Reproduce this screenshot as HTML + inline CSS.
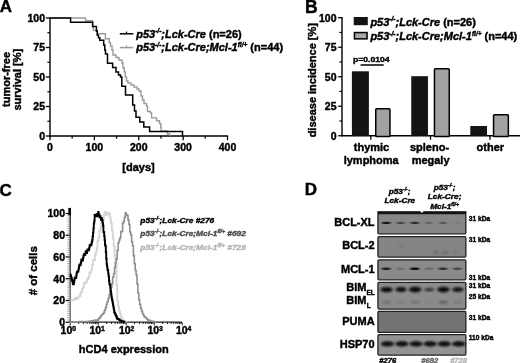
<!DOCTYPE html>
<html><head><meta charset="utf-8"><style>
html,body{margin:0;padding:0;background:#fff;}
svg{display:block;}
text{font-family:"Liberation Sans", sans-serif; stroke:currentColor; stroke-width:0.42px;}
svg{filter:blur(0.3px);}
</style></head><body>
<svg width="520" height="363" viewBox="0 0 520 363">
<rect width="520" height="363" fill="#fff"/>
<text x="-0.2" y="12.0" font-size="17" font-weight="bold" font-style="normal" text-anchor="start" fill="#000" color="#000" >A</text>
<line x1="50" y1="17.4" x2="50" y2="136.6" stroke="#000" stroke-width="1.4"/>
<line x1="45.8" y1="136.0" x2="50" y2="136.0" stroke="#000" stroke-width="1.3"/>
<text x="45" y="139.8" font-size="10.5" font-weight="bold" font-style="normal" text-anchor="end" fill="#000" color="#000" >0</text>
<line x1="45.8" y1="106.5" x2="50" y2="106.5" stroke="#000" stroke-width="1.3"/>
<text x="45" y="110.3" font-size="10.5" font-weight="bold" font-style="normal" text-anchor="end" fill="#000" color="#000" >25</text>
<line x1="45.8" y1="77.0" x2="50" y2="77.0" stroke="#000" stroke-width="1.3"/>
<text x="45" y="80.8" font-size="10.5" font-weight="bold" font-style="normal" text-anchor="end" fill="#000" color="#000" >50</text>
<line x1="45.8" y1="47.5" x2="50" y2="47.5" stroke="#000" stroke-width="1.3"/>
<text x="45" y="51.3" font-size="10.5" font-weight="bold" font-style="normal" text-anchor="end" fill="#000" color="#000" >75</text>
<line x1="45.8" y1="18.0" x2="50" y2="18.0" stroke="#000" stroke-width="1.3"/>
<text x="45" y="21.8" font-size="10.5" font-weight="bold" font-style="normal" text-anchor="end" fill="#000" color="#000" >100</text>
<line x1="47.4" y1="121.25" x2="50" y2="121.25" stroke="#000" stroke-width="1.2"/>
<line x1="47.4" y1="91.75" x2="50" y2="91.75" stroke="#000" stroke-width="1.2"/>
<line x1="47.4" y1="62.25" x2="50" y2="62.25" stroke="#000" stroke-width="1.2"/>
<line x1="47.4" y1="32.75" x2="50" y2="32.75" stroke="#000" stroke-width="1.2"/>
<line x1="49.4" y1="136.0" x2="228.1" y2="136.0" stroke="#000" stroke-width="1.4"/>
<line x1="50.0" y1="136.0" x2="50.0" y2="140.2" stroke="#000" stroke-width="1.3"/>
<line x1="72.1875" y1="136.0" x2="72.1875" y2="138.6" stroke="#000" stroke-width="1.3"/>
<line x1="94.375" y1="136.0" x2="94.375" y2="140.2" stroke="#000" stroke-width="1.3"/>
<line x1="116.5625" y1="136.0" x2="116.5625" y2="138.6" stroke="#000" stroke-width="1.3"/>
<line x1="138.75" y1="136.0" x2="138.75" y2="140.2" stroke="#000" stroke-width="1.3"/>
<line x1="160.9375" y1="136.0" x2="160.9375" y2="138.6" stroke="#000" stroke-width="1.3"/>
<line x1="183.125" y1="136.0" x2="183.125" y2="140.2" stroke="#000" stroke-width="1.3"/>
<line x1="205.3125" y1="136.0" x2="205.3125" y2="138.6" stroke="#000" stroke-width="1.3"/>
<line x1="227.5" y1="136.0" x2="227.5" y2="140.2" stroke="#000" stroke-width="1.3"/>
<text x="50.0" y="151.2" font-size="10.5" font-weight="bold" font-style="normal" text-anchor="middle" fill="#000" color="#000" >0</text>
<text x="94.375" y="151.2" font-size="10.5" font-weight="bold" font-style="normal" text-anchor="middle" fill="#000" color="#000" >100</text>
<text x="138.75" y="151.2" font-size="10.5" font-weight="bold" font-style="normal" text-anchor="middle" fill="#000" color="#000" >200</text>
<text x="183.125" y="151.2" font-size="10.5" font-weight="bold" font-style="normal" text-anchor="middle" fill="#000" color="#000" >300</text>
<text x="227.5" y="151.2" font-size="10.5" font-weight="bold" font-style="normal" text-anchor="middle" fill="#000" color="#000" >400</text>
<text x="138.5" y="170.5" font-size="11" font-weight="bold" font-style="normal" text-anchor="middle" fill="#000" color="#000" >[days]</text>
<g transform="translate(10.2,79.5) rotate(-90)">
<text x="0" y="0" font-size="11" font-weight="bold" font-style="normal" text-anchor="middle" fill="#000" color="#000" >tumor-free</text>
</g>
<g transform="translate(21.3,79.7) rotate(-90)">
<text x="0" y="0" font-size="11" font-weight="bold" font-style="normal" text-anchor="middle" fill="#000" color="#000" >survival [%]</text>
</g>
<polyline points="50.00,18.00 85.60,18.00 85.60,20.80 92.50,20.80 92.50,26.70 93.40,26.70 93.40,30.40 96.50,30.40 96.50,31.20 97.30,31.20 97.30,33.70 105.40,33.70 105.40,38.70 109.30,38.70 109.30,42.80 110.50,42.80 110.50,46.00 112.00,46.00 112.00,50.00 113.00,50.00 113.00,55.00 116.00,55.00 116.00,57.50 119.00,57.50 119.00,60.00 122.00,60.00 122.00,63.00 123.00,63.00 123.00,68.00 124.30,68.00 124.30,72.00 125.30,72.00 125.30,77.00 126.50,77.00 126.50,81.00 128.00,81.00 128.00,83.00 131.00,83.00 131.00,85.00 134.00,85.00 134.00,87.00 137.00,87.00 137.00,89.00 139.00,89.00 139.00,91.00 141.00,91.00 141.00,96.00 142.50,96.00 142.50,100.00 144.00,100.00 144.00,103.50 146.50,103.50 146.50,106.00 147.50,106.00 147.50,111.50 150.50,111.50 150.50,113.00 151.60,113.00 151.60,117.90 156.60,117.90 156.60,120.70 159.50,120.70 159.50,123.50 160.70,123.50 160.70,127.00 161.10,127.00 161.10,131.00 167.30,131.00 167.30,134.00 169.80,134.00 169.80,136.00" fill="none" stroke="#9a9a9a" stroke-width="1.4" stroke-linejoin="miter"/>
<polyline points="50.00,18.00 70.60,18.00 70.60,22.20 92.70,22.20 92.70,26.60 96.40,26.60 96.40,31.00 97.30,31.00 97.30,35.30 98.50,35.30 98.50,37.80 99.80,37.80 99.80,40.30 103.70,40.30 103.70,45.00 104.80,45.00 104.80,50.00 105.50,50.00 105.50,54.00 107.50,54.00 107.50,63.30 112.60,63.30 112.60,67.50 116.00,67.50 116.00,72.00 118.50,72.00 118.50,75.00 120.50,75.00 120.50,77.00 121.80,77.00 121.80,86.30 125.50,86.30 125.50,95.00 132.70,95.00 132.70,105.00 134.50,105.00 134.50,111.00 136.00,111.00 136.00,117.20 139.80,117.20 139.80,122.00 143.80,122.00 143.80,126.90 149.60,126.90 149.60,131.60 182.50,131.60 182.50,136.00" fill="none" stroke="#000" stroke-width="1.5" stroke-linejoin="miter"/>
<line x1="119.8" y1="33.8" x2="133.3" y2="33.8" stroke="#000" stroke-width="1.5"/>
<line x1="126.5" y1="31.6" x2="126.5" y2="33.8" stroke="#000" stroke-width="1.2"/>
<line x1="119.8" y1="47.6" x2="133.3" y2="47.6" stroke="#9a9a9a" stroke-width="1.5"/>
<line x1="126.5" y1="45.4" x2="126.5" y2="47.6" stroke="#9a9a9a" stroke-width="1.2"/>
<text x="136.2" y="37.5" font-size="11" font-weight="bold" fill="#000"><tspan font-style="italic">p53</tspan><tspan font-style="italic" font-size="6.5" dy="-4.2">-/-</tspan><tspan font-style="italic" dy="4.2">;Lck-Cre</tspan><tspan> (n=26)</tspan></text>
<text x="136.2" y="51.4" font-size="11" font-weight="bold" fill="#000"><tspan font-style="italic">p53</tspan><tspan font-style="italic" font-size="6.5" dy="-4.2">-/-</tspan><tspan font-style="italic" dy="4.2">;Lck-Cre;Mcl-1</tspan><tspan font-style="italic" font-size="6.5" dy="-4.2">fl/+</tspan><tspan dy="4.2"> (n=44)</tspan></text>
<text x="305.0" y="12.7" font-size="17.5" font-weight="bold" font-style="normal" text-anchor="start" fill="#000" color="#000" >B</text>
<line x1="342" y1="17.099999999999998" x2="342" y2="136.35" stroke="#000" stroke-width="1.4"/>
<line x1="338.2" y1="135.75" x2="342" y2="135.75" stroke="#000" stroke-width="1.3"/>
<text x="336.5" y="139.55" font-size="10.5" font-weight="bold" font-style="normal" text-anchor="end" fill="#000" color="#000" >0</text>
<line x1="338.2" y1="106.2375" x2="342" y2="106.2375" stroke="#000" stroke-width="1.3"/>
<text x="336.5" y="110.0375" font-size="10.5" font-weight="bold" font-style="normal" text-anchor="end" fill="#000" color="#000" >25</text>
<line x1="338.2" y1="76.725" x2="342" y2="76.725" stroke="#000" stroke-width="1.3"/>
<text x="336.5" y="80.52499999999999" font-size="10.5" font-weight="bold" font-style="normal" text-anchor="end" fill="#000" color="#000" >50</text>
<line x1="338.2" y1="47.212500000000006" x2="342" y2="47.212500000000006" stroke="#000" stroke-width="1.3"/>
<text x="336.5" y="51.0125" font-size="10.5" font-weight="bold" font-style="normal" text-anchor="end" fill="#000" color="#000" >75</text>
<line x1="338.2" y1="17.700000000000003" x2="342" y2="17.700000000000003" stroke="#000" stroke-width="1.3"/>
<text x="336.5" y="21.500000000000004" font-size="10.5" font-weight="bold" font-style="normal" text-anchor="end" fill="#000" color="#000" >100</text>
<line x1="339.4" y1="120.99375" x2="342" y2="120.99375" stroke="#000" stroke-width="1.2"/>
<line x1="339.4" y1="91.48125" x2="342" y2="91.48125" stroke="#000" stroke-width="1.2"/>
<line x1="339.4" y1="61.96875" x2="342" y2="61.96875" stroke="#000" stroke-width="1.2"/>
<line x1="339.4" y1="32.45625" x2="342" y2="32.45625" stroke="#000" stroke-width="1.2"/>
<line x1="341.4" y1="135.75" x2="520" y2="135.75" stroke="#000" stroke-width="1.6"/>
<line x1="370.8" y1="135.75" x2="370.8" y2="139.75" stroke="#000" stroke-width="1.3"/>
<line x1="430.5" y1="135.75" x2="430.5" y2="139.75" stroke="#000" stroke-width="1.3"/>
<line x1="490" y1="135.75" x2="490" y2="139.75" stroke="#000" stroke-width="1.3"/>
<rect x="351.9" y="71.3" width="17.0" height="64.45" fill="#141414" stroke="none" stroke-width="0"/>
<rect x="375.75" y="108.75" width="14.199999999999989" height="27.75" rx="0.8" fill="#a2a2a2" stroke="#000" stroke-width="1.5"/>
<rect x="411.25" y="76.2" width="16.7" height="59.55" fill="#141414" stroke="none" stroke-width="0"/>
<rect x="434.45" y="68.85" width="14.800000000000011" height="67.65" rx="0.8" fill="#a2a2a2" stroke="#000" stroke-width="1.5"/>
<rect x="470.3" y="126.0" width="16.7" height="9.75" fill="#141414" stroke="none" stroke-width="0"/>
<rect x="493.55" y="114.75" width="14.800000000000011" height="21.75" rx="0.8" fill="#a2a2a2" stroke="#000" stroke-width="1.5"/>
<rect x="353.7" y="17.0" width="14.1" height="8.2" fill="#141414" stroke="none" stroke-width="0"/>
<rect x="354.45" y="32.55" width="12.6" height="6.3" fill="#a8a8a8" stroke="#000" stroke-width="1.5"/>
<text x="370.4" y="25.6" font-size="11" font-weight="bold" fill="#000"><tspan font-style="italic">p53</tspan><tspan font-style="italic" font-size="6.5" dy="-4.2">-/-</tspan><tspan font-style="italic" dy="4.2">;Lck-Cre</tspan><tspan> (n=26)</tspan></text>
<text x="370.4" y="40.1" font-size="11" font-weight="bold" fill="#000"><tspan font-style="italic">p53</tspan><tspan font-style="italic" font-size="6.5" dy="-4.2">-/-</tspan><tspan font-style="italic" dy="4.2">;Lck-Cre;Mcl-1</tspan><tspan font-style="italic" font-size="6.5" dy="-4.2">fl/+</tspan><tspan dy="4.2"> (n=44)</tspan></text>
<g transform="translate(353,61.8) scale(1,0.85)"><text x="0" y="0" font-size="8.6" font-weight="bold">p=0.0104</text></g>
<line x1="360.6" y1="65.0" x2="383.7" y2="65.0" stroke="#000" stroke-width="1.5"/>
<text x="371.5" y="150.8" font-size="11" font-weight="bold" font-style="normal" text-anchor="middle" fill="#000" color="#000" >thymic</text>
<text x="371.2" y="164.2" font-size="11" font-weight="bold" font-style="normal" text-anchor="middle" fill="#000" color="#000" >lymphoma</text>
<text x="429.5" y="150.8" font-size="11" font-weight="bold" font-style="normal" text-anchor="middle" fill="#000" color="#000" >spleno-</text>
<text x="430.6" y="164.2" font-size="11" font-weight="bold" font-style="normal" text-anchor="middle" fill="#000" color="#000" >megaly</text>
<text x="490.3" y="150.8" font-size="11" font-weight="bold" font-style="normal" text-anchor="middle" fill="#000" color="#000" >other</text>
<g transform="translate(315.5,80.2) rotate(-90)">
<text x="0" y="0" font-size="11" font-weight="bold" font-style="normal" text-anchor="middle" fill="#000" color="#000" >disease incidence [%]</text>
</g>
<text x="-0.6" y="195.5" font-size="17" font-weight="bold" font-style="normal" text-anchor="start" fill="#000" color="#000" >C</text>
<defs><linearGradient id="cax" x1="0" y1="0" x2="0" y2="1"><stop offset="0" stop-color="#3a3a3a"/><stop offset="0.6" stop-color="#555"/><stop offset="0.75" stop-color="#7a7a7a"/><stop offset="1" stop-color="#7a7a7a"/></linearGradient></defs>
<rect x="69.4" y="208" width="1.6" height="114.6" fill="url(#cax)"/>
<rect x="68.3" y="207.9" width="2.6" height="7.4" fill="#000" stroke="none" stroke-width="0"/>
<line x1="65.6" y1="322.2" x2="69.6" y2="322.2" stroke="#000" stroke-width="1.2"/>
<text x="65" y="326.0" font-size="10.5" font-weight="bold" font-style="normal" text-anchor="end" fill="#000" color="#000" >0</text>
<line x1="65.6" y1="300.46" x2="69.6" y2="300.46" stroke="#000" stroke-width="1.2"/>
<text x="65" y="304.26" font-size="10.5" font-weight="bold" font-style="normal" text-anchor="end" fill="#000" color="#000" >20</text>
<line x1="65.6" y1="278.71999999999997" x2="69.6" y2="278.71999999999997" stroke="#000" stroke-width="1.2"/>
<text x="65" y="282.52" font-size="10.5" font-weight="bold" font-style="normal" text-anchor="end" fill="#000" color="#000" >40</text>
<line x1="65.6" y1="256.98" x2="69.6" y2="256.98" stroke="#000" stroke-width="1.2"/>
<text x="65" y="260.78000000000003" font-size="10.5" font-weight="bold" font-style="normal" text-anchor="end" fill="#000" color="#000" >60</text>
<line x1="65.6" y1="235.24" x2="69.6" y2="235.24" stroke="#000" stroke-width="1.2"/>
<text x="65" y="239.04000000000002" font-size="10.5" font-weight="bold" font-style="normal" text-anchor="end" fill="#000" color="#000" >80</text>
<line x1="65.6" y1="213.5" x2="69.6" y2="213.5" stroke="#000" stroke-width="1.2"/>
<text x="65" y="217.3" font-size="10.5" font-weight="bold" font-style="normal" text-anchor="end" fill="#000" color="#000" >100</text>
<line x1="67.4" y1="320.026" x2="69.6" y2="320.026" stroke="#8a8a8a" stroke-width="0.8"/>
<line x1="67.4" y1="317.852" x2="69.6" y2="317.852" stroke="#8a8a8a" stroke-width="0.8"/>
<line x1="67.4" y1="315.678" x2="69.6" y2="315.678" stroke="#8a8a8a" stroke-width="0.8"/>
<line x1="67.4" y1="313.50399999999996" x2="69.6" y2="313.50399999999996" stroke="#8a8a8a" stroke-width="0.8"/>
<line x1="67.4" y1="311.33" x2="69.6" y2="311.33" stroke="#8a8a8a" stroke-width="0.8"/>
<line x1="67.4" y1="309.156" x2="69.6" y2="309.156" stroke="#8a8a8a" stroke-width="0.8"/>
<line x1="67.4" y1="306.98199999999997" x2="69.6" y2="306.98199999999997" stroke="#8a8a8a" stroke-width="0.8"/>
<line x1="67.4" y1="304.808" x2="69.6" y2="304.808" stroke="#8a8a8a" stroke-width="0.8"/>
<line x1="67.4" y1="302.634" x2="69.6" y2="302.634" stroke="#8a8a8a" stroke-width="0.8"/>
<line x1="67.4" y1="298.286" x2="69.6" y2="298.286" stroke="#8a8a8a" stroke-width="0.8"/>
<line x1="67.4" y1="296.11199999999997" x2="69.6" y2="296.11199999999997" stroke="#8a8a8a" stroke-width="0.8"/>
<line x1="67.4" y1="293.938" x2="69.6" y2="293.938" stroke="#8a8a8a" stroke-width="0.8"/>
<line x1="67.4" y1="291.764" x2="69.6" y2="291.764" stroke="#8a8a8a" stroke-width="0.8"/>
<line x1="67.4" y1="289.59" x2="69.6" y2="289.59" stroke="#8a8a8a" stroke-width="0.8"/>
<line x1="67.4" y1="287.416" x2="69.6" y2="287.416" stroke="#8a8a8a" stroke-width="0.8"/>
<line x1="67.4" y1="285.24199999999996" x2="69.6" y2="285.24199999999996" stroke="#8a8a8a" stroke-width="0.8"/>
<line x1="67.4" y1="283.068" x2="69.6" y2="283.068" stroke="#8a8a8a" stroke-width="0.8"/>
<line x1="67.4" y1="280.894" x2="69.6" y2="280.894" stroke="#8a8a8a" stroke-width="0.8"/>
<line x1="67.4" y1="276.546" x2="69.6" y2="276.546" stroke="#8a8a8a" stroke-width="0.8"/>
<line x1="67.4" y1="274.372" x2="69.6" y2="274.372" stroke="#8a8a8a" stroke-width="0.8"/>
<line x1="67.4" y1="272.198" x2="69.6" y2="272.198" stroke="#8a8a8a" stroke-width="0.8"/>
<line x1="67.4" y1="270.024" x2="69.6" y2="270.024" stroke="#8a8a8a" stroke-width="0.8"/>
<line x1="67.4" y1="267.85" x2="69.6" y2="267.85" stroke="#8a8a8a" stroke-width="0.8"/>
<line x1="67.4" y1="265.676" x2="69.6" y2="265.676" stroke="#8a8a8a" stroke-width="0.8"/>
<line x1="67.4" y1="263.502" x2="69.6" y2="263.502" stroke="#8a8a8a" stroke-width="0.8"/>
<line x1="67.4" y1="261.328" x2="69.6" y2="261.328" stroke="#8a8a8a" stroke-width="0.8"/>
<line x1="67.4" y1="259.154" x2="69.6" y2="259.154" stroke="#8a8a8a" stroke-width="0.8"/>
<line x1="67.4" y1="254.80599999999998" x2="69.6" y2="254.80599999999998" stroke="#8a8a8a" stroke-width="0.8"/>
<line x1="67.4" y1="252.632" x2="69.6" y2="252.632" stroke="#8a8a8a" stroke-width="0.8"/>
<line x1="67.4" y1="250.458" x2="69.6" y2="250.458" stroke="#8a8a8a" stroke-width="0.8"/>
<line x1="67.4" y1="248.284" x2="69.6" y2="248.284" stroke="#8a8a8a" stroke-width="0.8"/>
<line x1="67.4" y1="246.11" x2="69.6" y2="246.11" stroke="#8a8a8a" stroke-width="0.8"/>
<line x1="67.4" y1="243.93599999999998" x2="69.6" y2="243.93599999999998" stroke="#8a8a8a" stroke-width="0.8"/>
<line x1="67.4" y1="241.762" x2="69.6" y2="241.762" stroke="#8a8a8a" stroke-width="0.8"/>
<line x1="67.4" y1="239.588" x2="69.6" y2="239.588" stroke="#8a8a8a" stroke-width="0.8"/>
<line x1="67.4" y1="237.414" x2="69.6" y2="237.414" stroke="#8a8a8a" stroke-width="0.8"/>
<line x1="67.4" y1="233.06599999999997" x2="69.6" y2="233.06599999999997" stroke="#8a8a8a" stroke-width="0.8"/>
<line x1="67.4" y1="230.892" x2="69.6" y2="230.892" stroke="#8a8a8a" stroke-width="0.8"/>
<line x1="67.4" y1="228.71800000000002" x2="69.6" y2="228.71800000000002" stroke="#8a8a8a" stroke-width="0.8"/>
<line x1="67.4" y1="226.54399999999998" x2="69.6" y2="226.54399999999998" stroke="#8a8a8a" stroke-width="0.8"/>
<line x1="67.4" y1="224.37" x2="69.6" y2="224.37" stroke="#8a8a8a" stroke-width="0.8"/>
<line x1="67.4" y1="222.196" x2="69.6" y2="222.196" stroke="#8a8a8a" stroke-width="0.8"/>
<line x1="67.4" y1="220.022" x2="69.6" y2="220.022" stroke="#8a8a8a" stroke-width="0.8"/>
<line x1="67.4" y1="217.848" x2="69.6" y2="217.848" stroke="#8a8a8a" stroke-width="0.8"/>
<line x1="67.4" y1="215.674" x2="69.6" y2="215.674" stroke="#8a8a8a" stroke-width="0.8"/>
<line x1="69.4" y1="322.2" x2="182" y2="322.2" stroke="#222" stroke-width="1.2"/>
<line x1="70.2" y1="322.2" x2="70.2" y2="325.4" stroke="#000" stroke-width="0.9"/>
<line x1="78.62883987859148" y1="322.2" x2="78.62883987859148" y2="324.0" stroke="#000" stroke-width="0.9"/>
<line x1="83.55939513215056" y1="322.2" x2="83.55939513215056" y2="324.0" stroke="#000" stroke-width="0.9"/>
<line x1="87.05767975718295" y1="322.2" x2="87.05767975718295" y2="324.0" stroke="#000" stroke-width="0.9"/>
<line x1="89.77116012140853" y1="322.2" x2="89.77116012140853" y2="324.0" stroke="#000" stroke-width="0.9"/>
<line x1="91.98823501074202" y1="322.2" x2="91.98823501074202" y2="324.0" stroke="#000" stroke-width="0.9"/>
<line x1="93.8627451203992" y1="322.2" x2="93.8627451203992" y2="324.0" stroke="#000" stroke-width="0.9"/>
<line x1="95.48651963577441" y1="322.2" x2="95.48651963577441" y2="324.0" stroke="#000" stroke-width="0.9"/>
<line x1="96.9187902643011" y1="322.2" x2="96.9187902643011" y2="324.0" stroke="#000" stroke-width="0.9"/>
<line x1="98.2" y1="322.2" x2="98.2" y2="325.4" stroke="#000" stroke-width="0.9"/>
<line x1="106.62883987859148" y1="322.2" x2="106.62883987859148" y2="324.0" stroke="#000" stroke-width="0.9"/>
<line x1="111.55939513215054" y1="322.2" x2="111.55939513215054" y2="324.0" stroke="#000" stroke-width="0.9"/>
<line x1="115.05767975718295" y1="322.2" x2="115.05767975718295" y2="324.0" stroke="#000" stroke-width="0.9"/>
<line x1="117.77116012140853" y1="322.2" x2="117.77116012140853" y2="324.0" stroke="#000" stroke-width="0.9"/>
<line x1="119.98823501074202" y1="322.2" x2="119.98823501074202" y2="324.0" stroke="#000" stroke-width="0.9"/>
<line x1="121.8627451203992" y1="322.2" x2="121.8627451203992" y2="324.0" stroke="#000" stroke-width="0.9"/>
<line x1="123.48651963577441" y1="322.2" x2="123.48651963577441" y2="324.0" stroke="#000" stroke-width="0.9"/>
<line x1="124.9187902643011" y1="322.2" x2="124.9187902643011" y2="324.0" stroke="#000" stroke-width="0.9"/>
<line x1="126.2" y1="322.2" x2="126.2" y2="325.4" stroke="#000" stroke-width="0.9"/>
<line x1="134.62883987859146" y1="322.2" x2="134.62883987859146" y2="324.0" stroke="#000" stroke-width="0.9"/>
<line x1="139.55939513215054" y1="322.2" x2="139.55939513215054" y2="324.0" stroke="#000" stroke-width="0.9"/>
<line x1="143.05767975718294" y1="322.2" x2="143.05767975718294" y2="324.0" stroke="#000" stroke-width="0.9"/>
<line x1="145.7711601214085" y1="322.2" x2="145.7711601214085" y2="324.0" stroke="#000" stroke-width="0.9"/>
<line x1="147.98823501074202" y1="322.2" x2="147.98823501074202" y2="324.0" stroke="#000" stroke-width="0.9"/>
<line x1="149.8627451203992" y1="322.2" x2="149.8627451203992" y2="324.0" stroke="#000" stroke-width="0.9"/>
<line x1="151.4865196357744" y1="322.2" x2="151.4865196357744" y2="324.0" stroke="#000" stroke-width="0.9"/>
<line x1="152.9187902643011" y1="322.2" x2="152.9187902643011" y2="324.0" stroke="#000" stroke-width="0.9"/>
<line x1="154.2" y1="322.2" x2="154.2" y2="325.4" stroke="#000" stroke-width="0.9"/>
<line x1="162.62883987859146" y1="322.2" x2="162.62883987859146" y2="324.0" stroke="#000" stroke-width="0.9"/>
<line x1="167.55939513215054" y1="322.2" x2="167.55939513215054" y2="324.0" stroke="#000" stroke-width="0.9"/>
<line x1="171.05767975718294" y1="322.2" x2="171.05767975718294" y2="324.0" stroke="#000" stroke-width="0.9"/>
<line x1="173.7711601214085" y1="322.2" x2="173.7711601214085" y2="324.0" stroke="#000" stroke-width="0.9"/>
<line x1="175.98823501074202" y1="322.2" x2="175.98823501074202" y2="324.0" stroke="#000" stroke-width="0.9"/>
<line x1="177.8627451203992" y1="322.2" x2="177.8627451203992" y2="324.0" stroke="#000" stroke-width="0.9"/>
<line x1="179.4865196357744" y1="322.2" x2="179.4865196357744" y2="324.0" stroke="#000" stroke-width="0.9"/>
<line x1="180.9187902643011" y1="322.2" x2="180.9187902643011" y2="324.0" stroke="#000" stroke-width="0.9"/>
<line x1="182.2" y1="322.2" x2="182.2" y2="325.4" stroke="#000" stroke-width="0.9"/>
<text x="60.6" y="334.2" font-size="10.5" font-weight="bold">10<tspan font-size="6.8" dy="-3.6">0</tspan></text>
<text x="89.4" y="334.2" font-size="10.5" font-weight="bold">10<tspan font-size="6.8" dy="-3.6">1</tspan></text>
<text x="118.9" y="334.2" font-size="10.5" font-weight="bold">10<tspan font-size="6.8" dy="-3.6">2</tspan></text>
<text x="147.4" y="334.2" font-size="10.5" font-weight="bold">10<tspan font-size="6.8" dy="-3.6">3</tspan></text>
<text x="175.9" y="334.2" font-size="10.5" font-weight="bold">10<tspan font-size="6.8" dy="-3.6">4</tspan></text>
<text x="123.8" y="352.5" font-size="11" font-weight="bold" font-style="normal" text-anchor="middle" fill="#000" color="#000" >hCD4 expression</text>
<g transform="translate(36.5,270.7) rotate(-90)">
<text x="0" y="0" font-size="11.5" font-weight="bold" font-style="normal" text-anchor="middle" fill="#000" color="#000" ># of cells</text>
</g>
<polyline points="70.50,300.53 71.40,300.53 71.40,300.58 72.30,300.58 72.30,299.75 73.20,299.75 73.20,299.73 74.10,299.73 74.10,299.48 75.00,299.48 75.00,298.11 75.90,298.11 75.90,297.70 76.80,297.70 76.80,299.03 77.70,299.03 77.70,297.59 78.60,297.59 78.60,296.02 79.50,296.02 79.50,295.85 80.40,295.85 80.40,292.85 81.30,292.85 81.30,291.88 82.20,291.88 82.20,288.72 83.10,288.72 83.10,286.91 84.00,286.91 84.00,283.24 84.90,283.24 84.90,282.82 85.80,282.82 85.80,282.22 86.70,282.22 86.70,279.81 87.60,279.81 87.60,279.19 88.50,279.19 88.50,276.93 89.40,276.93 89.40,272.51 90.30,272.51 90.30,272.78 91.20,272.78 91.20,269.77 92.10,269.77 92.10,265.10 93.00,265.10 93.00,260.32 93.90,260.32 93.90,260.27 94.80,260.27 94.80,254.93 95.70,254.93 95.70,252.52 96.60,252.52 96.60,248.10 97.50,248.10 97.50,240.94 98.40,240.94 98.40,237.53 99.30,237.53 99.30,230.90 100.20,230.90 100.20,228.52 101.10,228.52 101.10,223.36 102.00,223.36 102.00,221.92 102.90,221.92 102.90,219.87 103.80,219.87 103.80,214.63 104.70,214.63 104.70,212.51 105.60,212.51 105.60,212.05 106.50,212.05 106.50,215.35 107.40,215.35 107.40,213.02 108.30,213.02 108.30,213.86 109.20,213.86 109.20,213.39 110.10,213.39 110.10,218.64 111.00,218.64 111.00,223.34 111.90,223.34 111.90,230.23 112.80,230.23 112.80,238.47 113.70,238.47 113.70,245.90 114.60,245.90 114.60,255.78 115.50,255.78 115.50,263.79 116.40,263.79 116.40,285.50 117.30,285.50 117.30,301.27 118.20,301.27 118.20,306.87 119.10,306.87 119.10,310.68 120.00,310.68 120.00,313.89 120.90,313.89 120.90,317.80 121.80,317.80 121.80,319.30 122.70,319.30 122.70,320.71 123.60,320.71 123.60,321.23 124.50,321.23 124.50,321.58 125.40,321.58 125.40,321.66 126.30,321.66 126.30,322.21" fill="none" stroke="#d6d6d6" stroke-width="1.9" stroke-linejoin="miter"/>
<polyline points="69.50,322.30 70.40,322.30 70.40,322.30 71.30,322.30 71.30,322.30 72.20,322.30 72.20,322.30 73.10,322.30 73.10,322.22 74.00,322.22 74.00,322.25 74.90,322.25 74.90,321.85 75.80,321.85 75.80,321.99 76.70,321.99 76.70,322.14 77.60,322.14 77.60,321.97 78.50,321.97 78.50,322.04 79.40,322.04 79.40,321.67 80.30,321.67 80.30,321.78 81.20,321.78 81.20,321.65 82.10,321.65 82.10,321.74 83.00,321.74 83.00,321.72 83.90,321.72 83.90,321.45 84.80,321.45 84.80,321.51 85.70,321.51 85.70,321.50 86.60,321.50 86.60,321.74 87.50,321.74 87.50,321.64 88.40,321.64 88.40,321.34 89.30,321.34 89.30,321.47 90.20,321.47 90.20,321.02 91.10,321.02 91.10,321.09 92.00,321.09 92.00,320.71 92.90,320.71 92.90,320.49 93.80,320.49 93.80,320.77 94.70,320.77 94.70,320.29 95.60,320.29 95.60,320.14 96.50,320.14 96.50,320.39 97.40,320.39 97.40,320.08 98.30,320.08 98.30,318.69 99.20,318.69 99.20,318.08 100.10,318.08 100.10,316.73 101.00,316.73 101.00,315.79 101.90,315.79 101.90,314.32 102.80,314.32 102.80,313.95 103.70,313.95 103.70,312.34 104.60,312.34 104.60,310.17 105.50,310.17 105.50,307.61 106.40,307.61 106.40,304.20 107.30,304.20 107.30,301.73 108.20,301.73 108.20,298.56 109.10,298.56 109.10,294.83 110.00,294.83 110.00,290.96 110.90,290.96 110.90,287.47 111.80,287.47 111.80,283.81 112.70,283.81 112.70,277.17 113.60,277.17 113.60,274.05 114.50,274.05 114.50,267.35 115.40,267.35 115.40,262.68 116.30,262.68 116.30,258.84 117.20,258.84 117.20,250.52 118.10,250.52 118.10,242.95 119.00,242.95 119.00,240.04 119.90,240.04 119.90,237.78 120.80,237.78 120.80,231.60 121.70,231.60 121.70,231.59 122.60,231.59 122.60,223.35 123.50,223.35 123.50,221.37 124.40,221.37 124.40,217.57 125.30,217.57 125.30,212.69 126.20,212.69 126.20,214.84 127.10,214.84 127.10,215.43 128.00,215.43 128.00,219.86 128.90,219.86 128.90,224.38 129.80,224.38 129.80,232.01 130.70,232.01 130.70,234.85 131.60,234.85 131.60,241.67 132.50,241.67 132.50,245.81 133.40,245.81 133.40,255.65 134.30,255.65 134.30,263.67 135.20,263.67 135.20,270.33 136.10,270.33 136.10,274.75 137.00,274.75 137.00,283.88 137.90,283.88 137.90,293.05 138.80,293.05 138.80,299.77 139.70,299.77 139.70,304.50 140.60,304.50 140.60,308.13 141.50,308.13 141.50,310.85 142.40,310.85 142.40,313.55 143.30,313.55 143.30,315.32 144.20,315.32 144.20,316.94 145.10,316.94 145.10,317.21 146.00,317.21 146.00,318.30 146.90,318.30 146.90,319.28 147.80,319.28 147.80,319.96 148.70,319.96 148.70,320.17 149.60,320.17 149.60,320.97 150.50,320.97 150.50,321.13 151.40,321.13 151.40,321.22 152.30,321.22 152.30,321.42 153.20,321.42 153.20,321.56 154.10,321.56 154.10,321.72 155.00,321.72 155.00,321.94 155.90,321.94 155.90,322.30" fill="none" stroke="#8f8f8f" stroke-width="1.6" stroke-linejoin="miter"/>
<polyline points="70.20,274.50 70.60,274.50 70.60,275.79 71.00,275.79 71.00,277.07 71.40,277.07 71.40,278.36 71.80,278.36 71.80,279.71 72.20,279.71 72.20,281.14 72.60,281.14 72.60,282.57 73.00,282.57 73.00,284.00 73.40,284.00 73.40,284.37 73.80,284.37 73.80,282.60 74.20,282.60 74.20,280.12 74.60,280.12 74.60,277.65 75.00,277.65 75.00,277.75 75.40,277.75 75.40,278.13 75.80,278.13 75.80,277.95 76.20,277.95 76.20,275.62 76.60,275.62 76.60,273.29 77.00,273.29 77.00,271.70 77.40,271.70 77.40,271.73 77.80,271.73 77.80,271.76 78.20,271.76 78.20,270.59 78.60,270.59 78.60,268.41 79.00,268.41 79.00,266.24 79.40,266.24 79.40,264.79 79.80,264.79 79.80,264.97 80.20,264.97 80.20,265.14 80.60,265.14 80.60,263.44 81.00,263.44 81.00,261.48 81.40,261.48 81.40,259.53 81.80,259.53 81.80,259.54 82.20,259.54 82.20,260.74 82.60,260.74 82.60,259.92 83.00,259.92 83.00,257.90 83.40,257.90 83.40,255.89 83.80,255.89 83.80,254.14 84.20,254.14 84.20,254.49 84.60,254.49 84.60,254.84 85.00,254.84 85.00,254.75 85.40,254.75 85.40,252.56 85.80,252.56 85.80,251.13 86.20,251.13 86.20,252.34 86.60,252.34 86.60,252.96 87.00,252.96 87.00,251.20 87.40,251.20 87.40,249.45 87.80,249.45 87.80,249.67 88.20,249.67 88.20,250.18 88.60,250.18 88.60,250.27 89.00,250.27 89.00,248.51 89.40,248.51 89.40,246.76 89.80,246.76 89.80,245.00 90.20,245.00 90.20,244.90 90.60,244.90 90.60,245.05 91.00,245.05 91.00,245.20 91.40,245.20 91.40,243.56 91.80,243.56 91.80,241.70 92.20,241.70 92.20,239.83 92.60,239.83 92.60,236.55 93.00,236.55 93.00,232.60 93.40,232.60 93.40,228.34 93.80,228.34 93.80,223.51 94.20,223.51 94.20,221.10 94.60,221.10 94.60,214.88 95.00,214.88 95.00,216.31 95.40,216.31 95.40,215.61 95.80,215.61 95.80,215.29 96.20,215.29 96.20,214.50 96.60,214.50 96.60,215.96 97.00,215.96 97.00,216.26 97.40,216.26 97.40,214.03 97.80,214.03 97.80,214.70 98.20,214.70 98.20,211.89 98.60,211.89 98.60,214.55 99.00,214.55 99.00,214.15 99.40,214.15 99.40,216.92 99.80,216.92 99.80,217.42 100.20,217.42 100.20,216.31 100.60,216.31 100.60,217.89 101.00,217.89 101.00,219.91 101.40,219.91 101.40,217.85 101.80,217.85 101.80,220.55 102.20,220.55 102.20,220.04 102.60,220.04 102.60,222.92 103.00,222.92 103.00,225.76 103.40,225.76 103.40,231.98 103.80,231.98 103.80,232.27 104.20,232.27 104.20,236.11 104.60,236.11 104.60,240.06 105.00,240.06 105.00,245.49 105.40,245.49 105.40,245.33 105.80,245.33 105.80,252.28 106.20,252.28 106.20,258.72 106.60,258.72 106.60,263.89 107.00,263.89 107.00,266.48 107.40,266.48 107.40,269.54 107.80,269.54 107.80,270.19 108.20,270.19 108.20,273.66 108.60,273.66 108.60,276.42 109.00,276.42 109.00,281.07 109.40,281.07 109.40,284.15 109.80,284.15 109.80,284.72 110.20,284.72 110.20,287.78 110.60,287.78 110.60,290.92 111.00,290.92 111.00,293.48 111.40,293.48 111.40,296.43 111.80,296.43 111.80,299.01 112.20,299.01 112.20,300.79 112.60,300.79 112.60,302.69 113.00,302.69 113.00,305.38 113.40,305.38 113.40,307.32 113.80,307.32 113.80,309.58 114.20,309.58 114.20,312.00 114.60,312.00 114.60,312.88 115.00,312.88 115.00,313.62 115.40,313.62 115.40,314.63 115.80,314.63 115.80,315.59 116.20,315.59 116.20,316.02 116.60,316.02 116.60,317.57 117.00,317.57 117.00,318.38 117.40,318.38 117.40,318.75 117.80,318.75 117.80,319.00 118.20,319.00 118.20,319.07 118.60,319.07 118.60,319.39 119.00,319.39 119.00,319.54 119.40,319.54 119.40,320.14 119.80,320.14 119.80,320.16 120.20,320.16 120.20,320.48 120.60,320.48 120.60,320.86 121.00,320.86 121.00,320.95 121.40,320.95 121.40,321.15 121.80,321.15 121.80,321.13 122.20,321.13 122.20,321.22 122.60,321.22 122.60,321.40 123.00,321.40 123.00,321.49 123.40,321.49 123.40,321.71 123.80,321.71 123.80,321.68 124.20,321.68 124.20,322.13 124.60,322.13 124.60,322.14" fill="none" stroke="#000" stroke-width="1.9" stroke-linejoin="miter"/>
<g transform="translate(140.3,222.5) scale(1,0.86)"><text x="0" y="0" font-size="8.35" font-weight="bold" font-style="italic" fill="#000" color="#000">p53<tspan font-size="5.2" dy="-3.2">-/-</tspan><tspan dy="3.2">;Lck-Cre</tspan><tspan> #276</tspan></text></g>
<g transform="translate(140.3,236.2) scale(1,0.86)"><text x="0" y="0" font-size="8.35" font-weight="bold" font-style="italic" fill="#4a4a4a" color="#4a4a4a">p53<tspan font-size="5.2" dy="-3.2">-/-</tspan><tspan dy="3.2">;Lck-Cre</tspan><tspan>;Mcl-1</tspan><tspan font-size="5.2" dy="-3.2">fl/+</tspan><tspan dy="3.2"> #692</tspan></text></g>
<g transform="translate(140.3,250.0) scale(1,0.86)"><text x="0" y="0" font-size="8.35" font-weight="bold" font-style="italic" fill="#b4b4b4" color="#b4b4b4">p53<tspan font-size="5.2" dy="-3.2">-/-</tspan><tspan dy="3.2">;Lck-Cre</tspan><tspan>;Mcl-1</tspan><tspan font-size="5.2" dy="-3.2">fl/+</tspan><tspan dy="3.2"> #728</tspan></text></g>
<text x="304.8" y="195.3" font-size="17" font-weight="bold" font-style="normal" text-anchor="start" fill="#000" color="#000" >D</text>
<g transform="translate(399.6,194.0) scale(1,0.9)"><text x="0" y="0" font-size="8.3" font-weight="bold" font-style="italic" text-anchor="middle">p53<tspan font-size="5.2" dy="-3.1">-/-</tspan><tspan dy="3.1">;</tspan></text></g>
<g transform="translate(399.8,203.3) scale(1,0.9)"><text x="0" y="0" font-size="8.3" font-weight="bold" font-style="italic" text-anchor="middle">Lck-Cre</text></g>
<g transform="translate(444.6,189.6) scale(1,0.9)"><text x="0" y="0" font-size="8.3" font-weight="bold" font-style="italic" text-anchor="middle">p53<tspan font-size="5.2" dy="-3.1">-/-</tspan><tspan dy="3.1">;</tspan></text></g>
<g transform="translate(444.6,199.3) scale(1,0.9)"><text x="0" y="0" font-size="8.3" font-weight="bold" font-style="italic" text-anchor="middle">Lck-Cre;</text></g>
<g transform="translate(444.6,208.6) scale(1,0.9)"><text x="0" y="0" font-size="8.3" font-weight="bold" font-style="italic" text-anchor="middle">Mcl-1<tspan font-size="5.2" dy="-3.1">fl/+</tspan></text></g>
<defs><filter id="blur" x="-50%" y="-50%" width="200%" height="200%"><feGaussianBlur stdDeviation="1.1"/></filter><filter id="blur2" x="-50%" y="-50%" width="200%" height="200%"><feGaussianBlur stdDeviation="0.8"/></filter><filter id="blur3" x="-50%" y="-50%" width="200%" height="200%"><feGaussianBlur stdDeviation="0.9 0.7"/></filter></defs>
<rect x="377.95" y="213.65" width="87.89999999999999" height="20.2" rx="1" fill="#868686" stroke="#202020" stroke-width="1.3"/>
<rect x="377.95" y="236.65" width="87.89999999999999" height="20.399999999999988" rx="1" fill="#858585" stroke="#202020" stroke-width="1.3"/>
<rect x="377.95" y="259.84999999999997" width="87.89999999999999" height="20.00000000000001" rx="1" fill="#8a8a8a" stroke="#202020" stroke-width="1.3"/>
<rect x="377.95" y="282.34999999999997" width="87.89999999999999" height="26.7" rx="1" fill="#8b8b8b" stroke="#202020" stroke-width="1.3"/>
<rect x="377.95" y="311.45" width="87.89999999999999" height="21.00000000000001" rx="1" fill="#747474" stroke="#202020" stroke-width="1.3"/>
<rect x="377.95" y="334.65" width="87.89999999999999" height="20.399999999999988" rx="1" fill="#929292" stroke="#202020" stroke-width="1.3"/>
<rect x="377.3" y="211.2" width="43.30000000000001" height="2.6" fill="#111" stroke="none" stroke-width="0"/>
<rect x="423.2" y="211.2" width="43.30000000000001" height="2.6" fill="#111" stroke="none" stroke-width="0"/>
<rect x="420.0" y="212.4" width="4" height="1.4" fill="#111" stroke="none" stroke-width="0"/>
<ellipse cx="386.2" cy="222.9" rx="4.5" ry="1.1" fill="#0a0a0a" opacity="0.95" filter="url(#blur3)"/>
<ellipse cx="400.6" cy="222.9" rx="4.0" ry="1.1" fill="#0a0a0a" opacity="0.55" filter="url(#blur3)"/>
<ellipse cx="414.8" cy="222.9" rx="4.25" ry="1.1" fill="#0a0a0a" opacity="0.75" filter="url(#blur3)"/>
<ellipse cx="428.9" cy="222.9" rx="3.5" ry="1.1" fill="#0a0a0a" opacity="0.3" filter="url(#blur3)"/>
<ellipse cx="443.0" cy="222.9" rx="3.75" ry="1.1" fill="#0a0a0a" opacity="0.4" filter="url(#blur3)"/>
<ellipse cx="457.4" cy="222.9" rx="3.5" ry="1.1" fill="#0a0a0a" opacity="0.08" filter="url(#blur3)"/>
<ellipse cx="402.0" cy="246" rx="4.0" ry="1.5" fill="#0a0a0a" opacity="0.08" filter="url(#blur)"/>
<ellipse cx="436.0" cy="252.5" rx="3.5" ry="1.75" fill="#0a0a0a" opacity="0.18" filter="url(#blur)"/>
<ellipse cx="445.0" cy="252.5" rx="3.5" ry="1.75" fill="#0a0a0a" opacity="0.2" filter="url(#blur)"/>
<ellipse cx="455.0" cy="252" rx="3.0" ry="1.5" fill="#0a0a0a" opacity="0.1" filter="url(#blur)"/>
<ellipse cx="386.1" cy="268.8" rx="4.5" ry="1.25" fill="#0a0a0a" opacity="0.85" filter="url(#blur3)"/>
<ellipse cx="400.5" cy="268.8" rx="4.0" ry="1.25" fill="#0a0a0a" opacity="0.2" filter="url(#blur3)"/>
<ellipse cx="414.7" cy="268.8" rx="4.75" ry="1.25" fill="#0a0a0a" opacity="1.0" filter="url(#blur3)"/>
<ellipse cx="428.8" cy="268.8" rx="4.0" ry="1.25" fill="#0a0a0a" opacity="0.25" filter="url(#blur3)"/>
<ellipse cx="442.9" cy="268.8" rx="4.5" ry="1.25" fill="#0a0a0a" opacity="0.7" filter="url(#blur3)"/>
<ellipse cx="457.3" cy="268.8" rx="4.5" ry="1.25" fill="#0a0a0a" opacity="0.5" filter="url(#blur3)"/>
<ellipse cx="386.6" cy="289.6" rx="6.25" ry="2.7" fill="#0a0a0a" opacity="1" filter="url(#blur2)"/>
<ellipse cx="401.0" cy="289.6" rx="5.5" ry="2.5" fill="#0a0a0a" opacity="1" filter="url(#blur2)"/>
<ellipse cx="415.2" cy="289.6" rx="6.25" ry="2.8" fill="#0a0a0a" opacity="1" filter="url(#blur2)"/>
<ellipse cx="429.3" cy="289.6" rx="5.0" ry="1.7" fill="#0a0a0a" opacity="0.75" filter="url(#blur2)"/>
<ellipse cx="443.4" cy="289.6" rx="6.25" ry="2.8" fill="#0a0a0a" opacity="1" filter="url(#blur2)"/>
<ellipse cx="457.8" cy="289.6" rx="5.75" ry="2.4" fill="#0a0a0a" opacity="0.95" filter="url(#blur2)"/>
<ellipse cx="386.6" cy="302.2" rx="4.5" ry="1.5" fill="#0a0a0a" opacity="0.22" filter="url(#blur)"/>
<ellipse cx="401.0" cy="302.2" rx="4.5" ry="1.5" fill="#0a0a0a" opacity="0.12" filter="url(#blur)"/>
<ellipse cx="415.2" cy="302.2" rx="4.5" ry="1.5" fill="#0a0a0a" opacity="0.22" filter="url(#blur)"/>
<ellipse cx="429.3" cy="302.2" rx="4.5" ry="1.5" fill="#0a0a0a" opacity="0.06" filter="url(#blur)"/>
<ellipse cx="443.4" cy="302.2" rx="4.5" ry="1.5" fill="#0a0a0a" opacity="0.35" filter="url(#blur)"/>
<ellipse cx="457.8" cy="302.2" rx="4.5" ry="1.5" fill="#0a0a0a" opacity="0.12" filter="url(#blur)"/>
<ellipse cx="387.5" cy="343.9" rx="6.6" ry="2.6" fill="#0a0a0a" opacity="1.0" filter="url(#blur2)"/>
<ellipse cx="401.9" cy="343.9" rx="6.6" ry="2.6" fill="#0a0a0a" opacity="1.0" filter="url(#blur2)"/>
<ellipse cx="416.1" cy="343.9" rx="6.6" ry="2.6" fill="#0a0a0a" opacity="1.0" filter="url(#blur2)"/>
<ellipse cx="430.2" cy="343.9" rx="6.6" ry="2.6" fill="#0a0a0a" opacity="1.0" filter="url(#blur2)"/>
<ellipse cx="444.3" cy="343.9" rx="6.6" ry="2.6" fill="#0a0a0a" opacity="1.0" filter="url(#blur2)"/>
<ellipse cx="458.7" cy="343.9" rx="6.6" ry="2.6" fill="#0a0a0a" opacity="1.0" filter="url(#blur2)"/>
<text x="374.6" y="226.0" font-size="11" font-weight="bold" font-style="normal" text-anchor="end" fill="#000" color="#000" >BCL-XL</text>
<text x="374.6" y="248.7" font-size="11" font-weight="bold" font-style="normal" text-anchor="end" fill="#000" color="#000" >BCL-2</text>
<text x="374.6" y="273.2" font-size="11" font-weight="bold" font-style="normal" text-anchor="end" fill="#000" color="#000" >MCL-1</text>
<text x="374.6" y="324.5" font-size="11" font-weight="bold" font-style="normal" text-anchor="end" fill="#000" color="#000" >PUMA</text>
<text x="374.6" y="348.0" font-size="11" font-weight="bold" font-style="normal" text-anchor="end" fill="#000" color="#000" >HSP70</text>
<text x="366.5" y="290.7" font-size="11" font-weight="bold" text-anchor="end">BIM</text>
<text x="366.5" y="294.8" font-size="6.5" font-weight="bold">EL</text>
<text x="366.5" y="304.2" font-size="11" font-weight="bold" text-anchor="end">BIM</text>
<text x="366.8" y="308.0" font-size="6.5" font-weight="bold">L</text>
<text x="468.8" y="221.0" font-size="6.6" font-weight="bold" font-style="normal" text-anchor="start" fill="#000" color="#000" >31 kDa</text>
<text x="468.8" y="242.0" font-size="6.6" font-weight="bold" font-style="normal" text-anchor="start" fill="#000" color="#000" >31 kDa</text>
<text x="468.8" y="280.2" font-size="6.6" font-weight="bold" font-style="normal" text-anchor="start" fill="#000" color="#000" >31 kDa</text>
<text x="468.8" y="288.2" font-size="6.6" font-weight="bold" font-style="normal" text-anchor="start" fill="#000" color="#000" >31 kDa</text>
<text x="468.8" y="299.3" font-size="6.6" font-weight="bold" font-style="normal" text-anchor="start" fill="#000" color="#000" >25 kDa</text>
<text x="468.8" y="320.4" font-size="6.6" font-weight="bold" font-style="normal" text-anchor="start" fill="#000" color="#000" >31 kDa</text>
<text x="468.8" y="339.7" font-size="6.6" font-weight="bold" font-style="normal" text-anchor="start" fill="#000" color="#000" >110 kDa</text>
<text x="387.8" y="362.8" font-size="7.6" font-weight="bold" font-style="italic" text-anchor="middle" fill="#000" color="#000" >#276</text>
<text x="429.8" y="362.8" font-size="7.6" font-weight="bold" font-style="italic" text-anchor="middle" fill="#666" color="#666" >#692</text>
<text x="458.6" y="362.8" font-size="7.6" font-weight="bold" font-style="italic" text-anchor="middle" fill="#b4b4b4" color="#b4b4b4" >#728</text>
</svg></body></html>
